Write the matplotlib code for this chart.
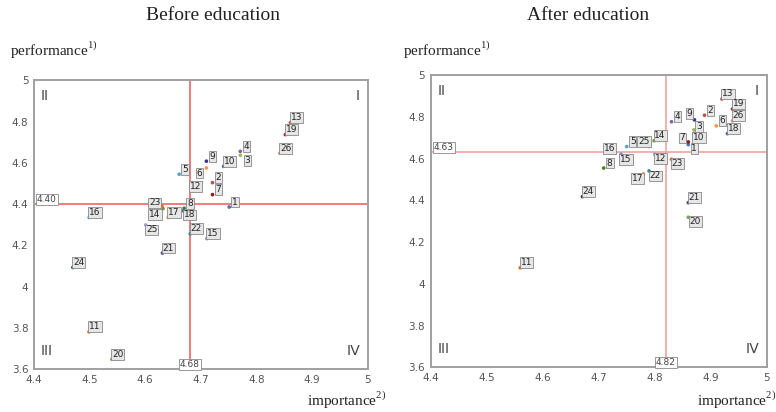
import matplotlib.pyplot as plt

# 데이터
ids = list(range(1, 27))
before_imp = [4.751, 4.721, 4.771, 4.771, 4.661, 4.710, 4.721, 4.670, 4.710, 4.741,
              4.499, 4.701, 4.861, 4.632, 4.711, 4.499, 4.641, 4.669, 4.852, 4.540,
              4.631, 4.681, 4.630, 4.470, 4.601, 4.842]
before_perf = [4.386, 4.504, 4.637, 4.656, 4.545, 4.575, 4.446, 4.380, 4.608, 4.583,
               3.781, 4.504, 4.795, 4.378, 4.233, 4.335, 4.335, 4.367, 4.737, 3.648,
               4.163, 4.256, 4.391, 4.093, 4.299, 4.647]
after_imp = [4.860, 4.889, 4.870, 4.830, 4.750, 4.910, 4.860, 4.709, 4.871, 4.870,
             4.560, 4.800, 4.920, 4.799, 4.740, 4.730, 4.780, 4.930, 4.939, 4.860,
             4.860, 4.790, 4.830, 4.671, 4.790, 4.939]
after_perf = [4.667, 4.808, 4.738, 4.777, 4.658, 4.757, 4.680, 4.555, 4.786, 4.720,
              4.077, 4.621, 4.886, 4.686, 4.621, 4.629, 4.528, 4.720, 4.838, 4.319,
              4.389, 4.541, 4.597, 4.418, 4.658, 4.781]
before_mean = (4.68, 4.40)
after_mean = (4.82, 4.63)
titles = ["Before education", "After education"]
ticks_x = [4.4, 4.5, 4.6, 4.7, 4.8, 4.9, 5.0]
ticks_y = [3.6, 3.8, 4.0, 4.2, 4.4, 4.6, 4.8, 5.0]

colors = ['#4472c4', '#c0504d', '#9bbb59', '#8064a2', '#4bacc6', '#f79646', '#8b1a1a',
          '#4f7a28', '#403294', '#1f6e8c', '#e46c0a', '#6fa8dc', '#d9534f', '#77933c',
          '#8e7cc3', '#5bc0de', '#f9a65a', '#2e5fa3', '#a52a2a', '#70ad47', '#5b3f8c',
          '#31859c', '#e36c09', '#1f3864', '#a0a0e0', '#e8888a']

# 라벨 위치 (픽셀 오프셋, 기본값은 오른쪽 위)
off_before = {3: (7, -5), 6: (-7, -5), 12: (-6, -4), 18: (6, -4), 23: (-7, 3),
              14: (-8, -6), 25: (6, -5)}
off_after = {9: (-5, 6), 3: (5, 3), 10: (5, -4), 7: (-6, 4), 1: (6, -4), 25: (-5, 5),
             16: (-6, 4), 15: (5, -5), 12: (6, -4), 23: (6, -4), 22: (6, -5),
             17: (-6, -5), 20: (7, -4)}

plt.rcParams['mathtext.fontset'] = 'custom'
plt.rcParams['mathtext.rm'] = 'Liberation Serif'

fig = plt.figure(figsize=(7.76, 4.12), dpi=100)
axes = [fig.add_axes([0.0438, 0.104, 0.430, 0.701]),
        fig.add_axes([0.555, 0.1085, 0.433, 0.709])]

box = dict(boxstyle='square,pad=0.1', fc='#e6e6e6', ec='#888888', lw=0.6)
serif = 'Liberation Serif'

for k, ax in enumerate(axes):
    xs, ys = (before_imp, before_perf) if k == 0 else (after_imp, after_perf)
    mx, my = before_mean if k == 0 else after_mean
    offs = off_before if k == 0 else off_after
    red = '#f07070' if k == 0 else '#f5a8a8'

    ax.set_xlim(4.4, 5.0)
    ax.set_ylim(3.6, 5.0)
    ax.set_xticks(ticks_x)
    ax.set_xticklabels(['4.4', '4.5', '4.6', '4.7', '4.8', '4.9', '5'])
    ax.set_yticks(ticks_y)
    ax.set_yticklabels(['3.6', '3.8', '4', '4.2', '4.4', '4.6', '4.8', '5'])
    ax.tick_params(length=0, labelsize=7.5, labelcolor='#555555', pad=4)
    for s in ax.spines.values():
        s.set_color('#a0a0a0')
        s.set_linewidth(1.4)

    ax.axhline(my, color=red, lw=1.3, zorder=1)
    ax.axvline(mx, color=red, lw=1.3, zorder=1)
    ax.annotate(f'{my:.2f}', (4.4, my), xytext=(3, 5), textcoords='offset pixels',
                fontsize=6.5, color='#444444', ha='left', va='center',
                bbox=dict(boxstyle='square,pad=0.1', fc='white', ec='#888888', lw=0.6))
    ax.annotate(f'{mx:.2f}', (mx, 3.6), xytext=(0, 5), textcoords='offset pixels',
                fontsize=6.5, color='#444444', ha='center', va='center',
                bbox=dict(boxstyle='square,pad=0.1', fc='white', ec='#888888', lw=0.6))

    ax.scatter(xs, ys, s=7, c=colors, zorder=3, linewidths=0)
    for i, x, y in zip(ids, xs, ys):
        dx, dy = offs.get(i, (6, 5))
        ax.annotate(str(i), (x, y), xytext=(dx, dy), textcoords='offset pixels',
                    fontsize=6.5, color='#222222', ha='center', va='center',
                    bbox=box, zorder=4)

    ax.text(0.02, 0.97, 'II', transform=ax.transAxes, fontsize=10, color='#444444',
            va='top', ha='left')
    ax.text(0.975, 0.97, 'I', transform=ax.transAxes, fontsize=10, color='#444444',
            va='top', ha='right')
    ax.text(0.02, 0.04, 'III', transform=ax.transAxes, fontsize=10, color='#444444',
            va='bottom', ha='left')
    ax.text(0.975, 0.04, 'Ⅳ', transform=ax.transAxes, fontsize=10, color='#444444',
            va='bottom', ha='right')

fig.text(213 / 776, 1 - 16 / 412, titles[0], family=serif, fontsize=14,
         ha='center', va='center', color='#222222')
fig.text(588 / 776, 1 - 16 / 412, titles[1], family=serif, fontsize=14,
         ha='center', va='center', color='#222222')
for x0 in (10, 403):
    fig.text(x0 / 776, 1 - 49 / 412, r'performance$^{\mathrm{1)}}$', family=serif,
             fontsize=11, ha='left', va='center', color='#222222')
for x1 in (386, 776):
    fig.text(x1 / 776, 1 - 400 / 412, r'importance$^{\mathrm{2)}}$', family=serif,
             fontsize=11, ha='right', va='center', color='#222222')

plt.savefig('out.png', dpi=100)
